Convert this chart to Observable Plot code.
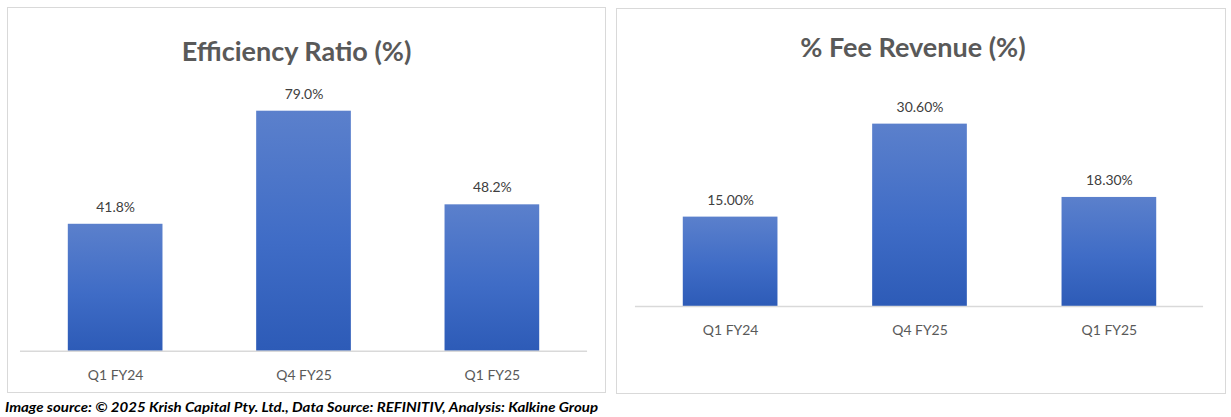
<!DOCTYPE html>
<html><head><meta charset="utf-8">
<script src="https://cdn.jsdelivr.net/npm/d3@7"></script>
<script src="https://cdn.jsdelivr.net/npm/@observablehq/plot@0.6"></script>
<style>
body{margin:0;background:#fff;width:1231px;height:417px;position:relative;overflow:hidden;font-family:Lato,"Noto Sans",sans-serif}
.panel{position:absolute;border:1px solid #d9d9d9;box-sizing:border-box;background:#fff}
.panel svg{position:absolute;left:-1px;top:-1px}
.title{position:absolute;left:0;right:0;text-align:center;font-weight:700;font-size:27px;color:#595959;line-height:32px;z-index:2}
#caption{position:absolute;left:5px;top:398px;font-weight:700;font-style:italic;font-size:14px;line-height:18px;color:#000;white-space:nowrap;transform-origin:0 50%}
</style>
</head><body>
<div class="panel" id="p1" style="left:7px;top:7px;width:599px;height:386px"><div class="title" style="top:27px;right:20px">Efficiency Ratio (%)</div></div>
<div class="panel" id="p2" style="left:616px;top:8px;width:610px;height:386px"><div class="title" style="top:22px;right:16px">% Fee Revenue (%)</div></div>
<div id="caption">Image source: © 2025 Krish Capital Pty. Ltd., Data Source: REFINITIV, Analysis: Kalkine Group</div>
<script>
const categories = ["Q1 FY24", "Q4 FY25", "Q1 FY25"];
const efficiencyRatio = [41.8, 79.0, 48.2];
const feeRevenue = [15.00, 30.60, 18.30];
const efficiencyDecimals = 1;
const feeDecimals = 2;

function gradientDef(id) {
  return () => {
    const defs = d3.create("svg:defs");
    const g = defs.append("linearGradient").attr("id", id)
      .attr("x1", 0).attr("y1", 0).attr("x2", 0).attr("y2", 1);
    g.append("stop").attr("offset", "0%").attr("stop-color", "#5b80cc");
    g.append("stop").attr("offset", "55%").attr("stop-color", "#3f6cc6");
    g.append("stop").attr("offset", "100%").attr("stop-color", "#2d5bb7");
    const f = defs.append("filter").attr("id", id + "s").attr("x", "-10%").attr("y", "-10%").attr("width", "120%").attr("height", "120%");
    f.append("feDropShadow").attr("dx", 0).attr("dy", 0).attr("stdDeviation", 1.5).attr("flood-color", "#000").attr("flood-opacity", 0.35);
    return defs.node();
  };
}

function panelChart({values, decimals, width, height, marginLeft, marginRight, marginTop, marginBottom, yMax, id}) {
  const data = categories.map((c, i) => ({cat: c, v: values[i], label: values[i].toFixed(decimals) + "%"}));
  return Plot.plot({
    width, height, marginLeft, marginRight, marginTop, marginBottom,
    style: {fontFamily: "Lato, 'Noto Sans', sans-serif", background: "transparent", overflow: "visible"},
    x: {domain: categories, paddingInner: 0.5, paddingOuter: 0.25, label: null},
    y: {domain: [0, yMax], axis: null},
    marks: [
      gradientDef(id),
      Plot.barY(data, {x: "cat", y: "v", fill: `url(#${id})`}),
      Plot.ruleY([0], {stroke: "#d9d9d9", strokeWidth: 1.5}),
      Plot.text(data, {x: "cat", y: "v", text: "label", dy: -17, fontSize: 14, fill: "#404040"}),
      Plot.axisX({tickSize: 0, tickPadding: 19, fontSize: 14, fill: "#595959", label: null})
    ]
  });
}

const c1 = panelChart({values: efficiencyRatio, decimals: efficiencyDecimals, width: 599, height: 386,
  marginLeft: 13, marginRight: 17, marginTop: 70.5, marginBottom: 41, yMax: 90, id: "g1"});
const c2 = panelChart({values: feeRevenue, decimals: feeDecimals, width: 610, height: 386,
  marginLeft: 19, marginRight: 21, marginTop: 89.7, marginBottom: 87, yMax: 35, id: "g2"});
document.getElementById("p1").appendChild(c1);
document.getElementById("p2").appendChild(c2);
document.querySelectorAll("svg rect").forEach(r => {
  const f = r.getAttribute("fill");
  if (f && f.startsWith("url(#g")) r.style.filter = "url(#" + f.slice(5, 7) + "s)";
});

const cap = document.getElementById("caption");
const w = cap.getBoundingClientRect().width;
cap.style.transform = `scaleX(${593 / w})`;
</script>
</body></html>
